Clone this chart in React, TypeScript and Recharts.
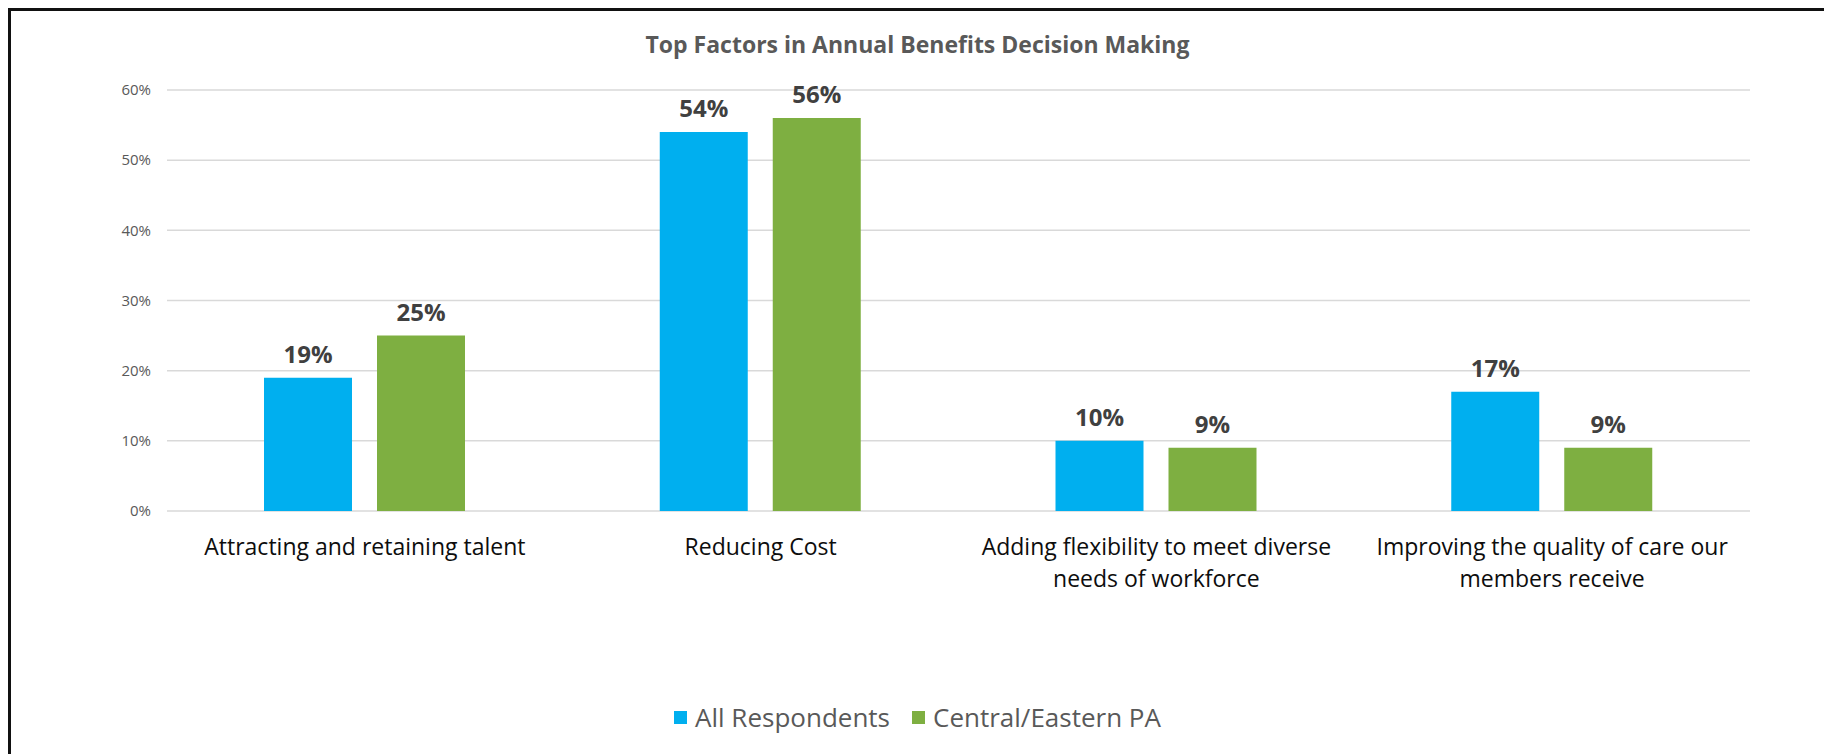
import { BarChart, Bar, XAxis, YAxis, CartesianGrid, Legend, LabelList } from "recharts"

const FONT = "'Open Sans', 'Noto Sans', sans-serif"

const title = "Top Factors in Annual Benefits Decision Making"
const categories = [
  "Attracting and retaining talent",
  "Reducing Cost",
  "Adding flexibility to meet diverse needs of workforce",
  "Improving the quality of care our members receive",
]
const allRespondents = [19, 54, 10, 17]
const centralEastern = [25, 56, 9, 9]
const yTicks = [0, 10, 20, 30, 40, 50, 60]
const seriesNames = ["All Respondents", "Central/Eastern PA"]

const BLUE = "#00AFEF"
const GREEN = "#7EAF41"

const data = categories.map((name, i) => ({
  name,
  all: allRespondents[i],
  central: centralEastern[i],
}))

// simple word wrap measured with canvas so lines break like the original
let ctx: CanvasRenderingContext2D | null = null
function wrap(text: string, maxWidth: number, font: string) {
  if (!ctx) ctx = document.createElement("canvas").getContext("2d")
  if (!ctx) return [text]
  ctx.font = font
  const words = text.split(" ")
  const lines: string[] = []
  let cur = ""
  for (const w of words) {
    const next = cur ? cur + " " + w : w
    if (cur && ctx.measureText(next).width > maxWidth) {
      lines.push(cur)
      cur = w
    } else {
      cur = next
    }
  }
  if (cur) lines.push(cur)
  return lines
}

function CategoryTick({ x, y, payload }: any) {
  const lines = wrap(payload.value, 375, `23px ${FONT}`)
  return (
    <text
      x={x}
      y={y + 44}
      textAnchor="middle"
      fill="#0d0d0d"
      fontSize={23}
      fontFamily={FONT}
    >
      {lines.map((l, i) => (
        <tspan key={i} x={x} dy={i === 0 ? 0 : 32}>
          {l}
        </tspan>
      ))}
    </text>
  )
}

function LegendContent() {
  const colors = [BLUE, GREEN]
  return (
    <div style={{ display: "flex", justifyContent: "center", alignItems: "center", fontFamily: FONT }}>
      {seriesNames.map((n, i) => (
        <div key={n} style={{ display: "flex", alignItems: "center", marginRight: i === 0 ? 22 : 0 }}>
          <span style={{ width: 13, height: 13, background: colors[i], display: "inline-block", marginRight: 8 }} />
          <span style={{ fontSize: 26, color: "#595959" }}>{n}</span>
        </div>
      ))}
    </div>
  )
}

export default function App() {
  return (
    <div
      style={{
        position: "relative",
        width: 1819,
        height: 746,
        boxSizing: "border-box",
        border: "3px solid #111",
        borderBottom: "none",
        background: "#fff",
        fontFamily: FONT,
      }}
    >
      <div
        style={{
          position: "absolute",
          top: 17,
          left: 0,
          width: "100%",
          textAlign: "center",
          fontSize: 23,
          fontWeight: 700,
          color: "#595959",
        }}
      >
        {title}
      </div>
      <BarChart
        width={1813}
        height={743}
        data={data}
        margin={{ top: 79, right: 74, left: 0, bottom: 143 }}
        barSize={88}
        barGap={25}
      >
        <CartesianGrid vertical={false} stroke="#D9D9D9" strokeWidth={1.5} />
        <XAxis
          dataKey="name"
          axisLine={false}
          tickLine={false}
          tickSize={0}
          tickMargin={0}
          height={100}
          interval={0}
          tick={<CategoryTick />}
        />
        <YAxis
          width={156}
          domain={[0, 60]}
          ticks={yTicks}
          axisLine={false}
          tickLine={false}
          tickSize={0}
          tickMargin={16}
          tickFormatter={(v: number) => `${v}%`}
          tick={{ fill: "#595959", fontSize: 15, fontFamily: FONT }}
        />
        <Legend
          verticalAlign="middle"
          align="center"
          wrapperStyle={{ top: 688, left: 0, width: 1813 }}
          content={<LegendContent />}
        />
        <Bar dataKey="all" name={seriesNames[0]} fill={BLUE} isAnimationActive={false}>
          <LabelList
            dataKey="all"
            position="top"
            offset={15}
            formatter={(v: any) => `${v}%`}
            style={{ fontSize: 24, fontWeight: 700, fill: "#404040", fontFamily: FONT }}
          />
        </Bar>
        <Bar dataKey="central" name={seriesNames[1]} fill={GREEN} isAnimationActive={false}>
          <LabelList
            dataKey="central"
            position="top"
            offset={15}
            formatter={(v: any) => `${v}%`}
            style={{ fontSize: 24, fontWeight: 700, fill: "#404040", fontFamily: FONT }}
          />
        </Bar>
      </BarChart>
    </div>
  )
}
